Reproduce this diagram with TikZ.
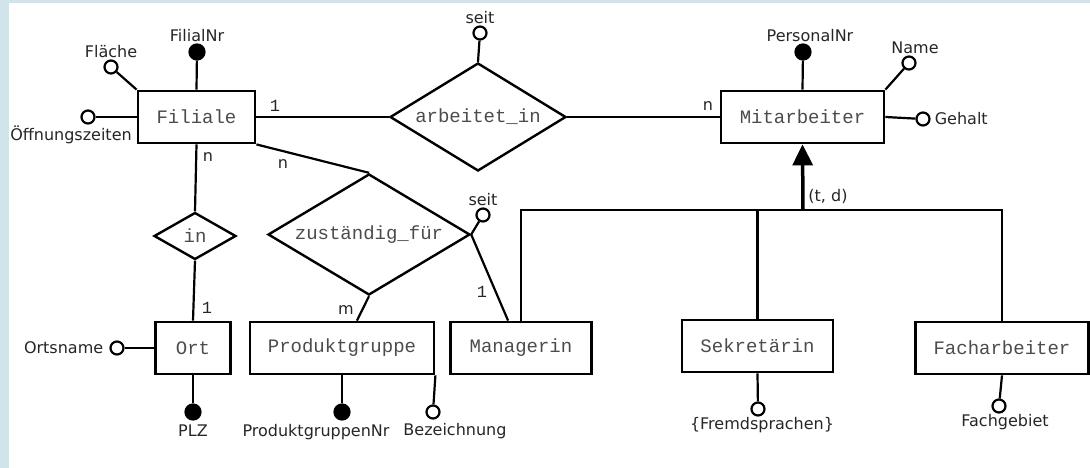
\documentclass[tikz,border=0pt]{standalone}
\usepackage{fontspec}
\setmainfont{DejaVu Sans}
\setmonofont{Liberation Mono}
\usetikzlibrary{shapes.geometric,arrows.meta,calc}

\definecolor{rahmen}{RGB}{207,229,235}
\definecolor{schrift}{gray}{0.3}

\tikzset{
  entity/.style={draw, line width=2.8pt, fill=white, inner sep=0pt, minimum height=52pt,
    font=\ttfamily\fontsize{19}{21}\selectfont, text=schrift},
  rel/.style={draw, diamond, line width=2.4pt, aspect=1.63, inner sep=2pt,
    font=\ttfamily\fontsize{19}{21}\selectfont, text=schrift},
  attr/.style={circle, draw, line width=2.2pt, fill=white, minimum size=13pt, inner sep=0pt},
  keyattr/.style={attr, fill=black, minimum size=15pt},
  lbl/.style={font=\fontsize{16}{18}\selectfont, text=black!85, inner sep=1pt},
  card/.style={font=\fontsize{16}{18}\selectfont, text=black!85, inner sep=0pt},
  conn/.style={line width=2.2pt},
}

\begin{document}
\begin{tikzpicture}[x=1pt,y=-1pt]
    % Rahmen
    \fill[rahmen] (0,0) rectangle (1090,468);
    \fill[white] (9,3) rectangle (1090,468);
    \useasboundingbox (0,0) rectangle (1090,468);

    % Entitaeten
    \node[entity, minimum width=117pt] (filiale) at (196.5,117) {Filiale};
    \node[entity, minimum width=163pt] (mitarbeiter) at (802.5,117) {Mitarbeiter};
    \node[entity, minimum width=75pt] (ort) at (193,348) {Ort};
    \node[entity, minimum width=184pt] (produktgruppe) at (342,348) {Produktgruppe};
    \node[entity, minimum width=141pt] (managerin) at (521,348) {Managerin};
    \node[entity, minimum width=151pt] (sekretaerin) at (757.5,346) {Sekretärin};
    \node[entity, minimum width=173pt] (facharbeiter) at (1002,348) {Facharbeiter};

    % Beziehungen
    \node[rel, minimum width=176pt, minimum height=108pt] (arbeitet) at (478,117) {arbeitet\_in};
    \node[rel, minimum width=82pt, minimum height=47pt] (in) at (195,236) {in};
    \node[rel, minimum width=202pt, minimum height=121pt] (zustaendig) at (369,234.5) {zuständig\_für};

    \draw[conn] (filiale.east) -- (arbeitet.west);
    \draw[conn] (arbeitet.east) -- (mitarbeiter.west);
    \draw[conn] (filiale.south) -- (in.north);
    \draw[conn] (in.south) -- (ort.north);
    \draw[conn] (filiale.south east) -- (zustaendig.north);
    \draw[conn] (zustaendig.south) -- ($(produktgruppe.north west)!0.58!(produktgruppe.north east)$);
    \draw[conn] (zustaendig.east) -- ($(managerin.north west)!0.41!(managerin.north east)$);

    % Spezialisierung
    \coordinate (isa) at (803,210);
    \draw[conn] (managerin.north) -- (managerin.north |- isa) -- (facharbeiter.north |- isa) -- (facharbeiter.north);
    \draw[conn] (sekretaerin.north) -- (sekretaerin.north |- isa);
    \draw[line width=3.5pt, -{Triangle[width=20pt,length=21pt]}] (isa) -- (mitarbeiter.south);

    % Attribute
    \node[keyattr, label={[lbl]above:FilialNr}] (filialnr) at (197,52) {};
    \node[attr, label={[lbl]above:Fläche}] (flaeche) at (111,67) {};
    \node[attr, label={[lbl,xshift=-17pt]below:Öffnungszeiten}] (oeffnung) at (88,117) {};
    \node[attr, label={[lbl]above:seit}] (seit1) at (480,33) {};
    \node[keyattr, label={[lbl,xshift=7pt]above:PersonalNr}] (personalnr) at (803,52) {};
    \node[attr, label={[lbl,xshift=6pt]above:Name}] (name) at (909,63) {};
    \node[attr, label={[lbl,label distance=3pt]right:Gehalt}] (gehalt) at (923,119) {};
    \node[attr, label={[lbl,label distance=5pt]left:Ortsname}] (ortsname) at (117,348) {};
    \node[keyattr, label={[lbl,label distance=3pt]below:PLZ}] (plz) at (193,412) {};
    \node[keyattr, label={[lbl,xshift=-26pt,label distance=3pt]below:ProduktgruppenNr}] (pgnr) at (342,412) {};
    \node[attr, label={[lbl,xshift=22pt,label distance=3pt]below:Bezeichnung}] (bezeichnung) at (433,412) {};
    \node[attr, label={[lbl]above:seit}] (seit2) at (483,215) {};
    \node[attr, label={[lbl,xshift=4pt]below:\{Fremdsprachen\}}] (fremd) at (758,409) {};
    \node[attr, label={[lbl,xshift=6pt]below:Fachgebiet}] (fachgebiet) at (999,406) {};

    \draw[conn] (filiale.north) -- (filialnr);
    \draw[conn] (filiale.north west) -- (flaeche);
    \draw[conn] (filiale.west) -- (oeffnung);
    \draw[conn] (arbeitet.north) -- (seit1);
    \draw[conn] (mitarbeiter.north) -- (personalnr);
    \draw[conn] (mitarbeiter.north east) -- (name);
    \draw[conn] (mitarbeiter.east) -- (gehalt);
    \draw[conn] (ort.west) -- (ortsname);
    \draw[conn] (ort.south) -- (plz);
    \draw[conn] (produktgruppe.south) -- (pgnr);
    \draw[conn] (produktgruppe.south east) -- (bezeichnung);
    \draw[conn] (zustaendig.east) -- (seit2);
    \draw[conn] (sekretaerin.south) -- (fremd);
    \draw[conn] (facharbeiter.south) -- (fachgebiet);

    % Kardinalitaeten
    \node[card, font=\ttfamily\fontsize{17}{19}\selectfont] (k1) at (275,106) {1};
    \node[card] (k2) at (708,106) {n};
    \node[card] (k3) at (208,157) {n};
    \node[card] (k4) at (283,164) {n};
    \node[card, font=\ttfamily\fontsize{17}{19}\selectfont] (k5) at (207,308) {1};
    \node[card] (k6) at (346,310) {m};
    \node[card, font=\ttfamily\fontsize{17}{19}\selectfont] (k7) at (482,292) {1};
    \node[card] (k8) at (828,196) {(t, d)};
\end{tikzpicture}
\end{document}
